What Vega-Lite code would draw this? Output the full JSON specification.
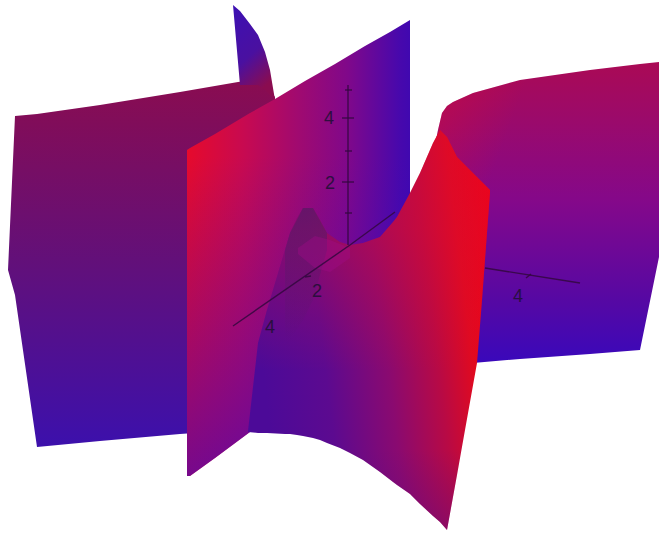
{"$schema":"https://vega.github.io/schema/vega-lite/v6.json","width":659,"height":536,"padding":0,"autosize":{"type":"fit","contains":"padding"},"background":"white","config":{"view":{"stroke":null}},
"datasets":{
"A":[{"x":8,"y":270,"y2":270},{"x":15,"y":116,"y2":295},{"x":37,"y":114,"y2":447},{"x":100,"y":105,"y2":441},{"x":180,"y":92,"y2":434},{"x":238,"y":82,"y2":430},{"x":262,"y":79,"y2":428},{"x":275,"y":97,"y2":420}],
"B":[{"x":233,"y":5,"y2":5},{"x":240,"y":11,"y2":85},{"x":250,"y":24,"y2":85},{"x":258,"y":35,"y2":85},{"x":265,"y":52,"y2":90},{"x":270,"y":70,"y2":95},{"x":275,"y":100,"y2":100}],
"C":[{"x":436,"y":140,"y2":366},{"x":438,"y":130,"y2":366},{"x":442,"y":113,"y2":366},{"x":447,"y":106,"y2":366},{"x":453,"y":102,"y2":365},{"x":473,"y":93,"y2":363},{"x":520,"y":80,"y2":359},{"x":590,"y":70,"y2":354},{"x":640,"y":64,"y2":350},{"x":659,"y":62,"y2":257}],
"D":[{"x":187,"y":150,"y2":476},{"x":190,"y":148,"y2":476},{"x":215,"y":134,"y2":458},{"x":250,"y":113,"y2":432},{"x":275,"y":99,"y2":400},{"x":305,"y":81,"y2":350},{"x":335,"y":64,"y2":300},{"x":365,"y":46,"y2":280},{"x":390,"y":32,"y2":260},{"x":410,"y":20,"y2":205}],
"E":[{"x":248,"y":431,"y2":432},{"x":258,"y":343,"y2":433},{"x":267,"y":310,"y2":433},{"x":285,"y":250,"y2":434},{"x":290,"y":233,"y2":434},{"x":297,"y":218,"y2":435},{"x":303,"y":208,"y2":436},{"x":313,"y":208,"y2":438},{"x":320,"y":220,"y2":440},{"x":327,"y":233,"y2":443},{"x":340,"y":242,"y2":448},{"x":350,"y":245,"y2":453},{"x":363,"y":243,"y2":460},{"x":380,"y":237,"y2":472},{"x":393,"y":222,"y2":482},{"x":397,"y":217,"y2":485},{"x":410,"y":193,"y2":494},{"x":420,"y":173,"y2":504},{"x":433,"y":143,"y2":516},{"x":440,"y":130,"y2":522},{"x":447,"y":137,"y2":530},{"x":457,"y":157,"y2":475},{"x":465,"y":165,"y2":430},{"x":477,"y":177,"y2":363},{"x":482,"y":182,"y2":300},{"x":490,"y":190,"y2":192}],
"F":[{"x":285,"y":250,"y2":340},{"x":290,"y":233,"y2":340},{"x":303,"y":208,"y2":320},{"x":313,"y":208,"y2":300},{"x":327,"y":233,"y2":250}],
"G":[{"x":298,"y":248,"y2":254},{"x":315,"y":236,"y2":268},{"x":330,"y":240,"y2":272},{"x":350,"y":248,"y2":258}],
"lines":[{"s":"a","x":233,"y":326},{"s":"a","x":350,"y":245},{"s":"a","x":395,"y":212},{"s":"b","x":485,"y":268},{"s":"b","x":580,"y":283},{"s":"c","x":348,"y":245},{"s":"c","x":348,"y":85},{"s":"t1","x":342,"y":118},{"s":"t1","x":354,"y":118},{"s":"t2","x":342,"y":182},{"s":"t2","x":354,"y":182},{"s":"t3","x":345,"y":90},{"s":"t3","x":352,"y":90},{"s":"t4","x":345,"y":151},{"s":"t4","x":352,"y":151},{"s":"t5","x":345,"y":213},{"s":"t5","x":352,"y":213},{"s":"t6","x":305,"y":277},{"s":"t6","x":311,"y":276},{"s":"t7","x":526,"y":278},{"s":"t7","x":531,"y":274}],
"labels":[{"l":"4","x":329,"y":119},{"l":"2","x":330,"y":184},{"l":"2","x":317,"y":292},{"l":"4","x":270,"y":328},{"l":"4","x":518,"y":297}]
},
"encoding":{"x":{"field":"x","type":"quantitative","scale":{"domain":[0,659],"nice":false,"zero":false},"axis":null},"y":{"field":"y","type":"quantitative","scale":{"domain":[536,0],"nice":false,"zero":false},"axis":null}},
"layer":[
{"data":{"name":"A"},"mark":{"type":"area","orient":"vertical","color":{"gradient":"linear","x1":0,"y1":0,"x2":0,"y2":1,"stops":[{"offset":0,"color":"#8a0c50"},{"offset":0.5,"color":"#62107a"},{"offset":1,"color":"#3c10ac"}]}},"encoding":{"y2":{"field":"y2"}}},
{"data":{"name":"B"},"mark":{"type":"area","orient":"vertical","color":{"gradient":"linear","x1":0,"y1":0,"x2":0.4,"y2":1,"stops":[{"offset":0,"color":"#3c10b4"},{"offset":0.6,"color":"#4a10a0"},{"offset":1,"color":"#8a0c50"}]}},"encoding":{"y2":{"field":"y2"}}},
{"data":{"name":"C"},"mark":{"type":"area","orient":"vertical","color":{"gradient":"linear","x1":0,"y1":0,"x2":0,"y2":1,"stops":[{"offset":0,"color":"#aa0a55"},{"offset":0.2,"color":"#9a0a6c"},{"offset":0.46,"color":"#84088a"},{"offset":0.79,"color":"#5508a4"},{"offset":1,"color":"#3808bc"}]}},"encoding":{"y2":{"field":"y2"}}},
{"data":{"name":"C"},"mark":{"type":"area","orient":"vertical","color":{"gradient":"linear","x1":0,"y1":0,"x2":1,"y2":0.5,"stops":[{"offset":0,"color":"rgba(230,10,40,0.4)"},{"offset":0.35,"color":"rgba(230,10,40,0)"}]}},"encoding":{"y2":{"field":"y2"}}},
{"data":{"name":"D"},"mark":{"type":"area","orient":"vertical","color":{"gradient":"linear","x1":0,"y1":0,"x2":1,"y2":0,"stops":[{"offset":0,"color":"#e60a2c"},{"offset":0.25,"color":"#c80a50"},{"offset":0.5,"color":"#a00a70"},{"offset":0.72,"color":"#80088a"},{"offset":0.95,"color":"#4808ac"},{"offset":1,"color":"#4008b0"}]}},"encoding":{"y2":{"field":"y2"}}},
{"data":{"name":"D"},"mark":{"type":"area","orient":"vertical","color":{"gradient":"linear","x1":0,"y1":0,"x2":0,"y2":1,"stops":[{"offset":0.3,"color":"rgba(60,8,190,0)"},{"offset":1,"color":"rgba(60,8,190,0.65)"}]}},"encoding":{"y2":{"field":"y2"}}},
{"data":{"name":"E"},"mark":{"type":"area","orient":"vertical","color":{"gradient":"linear","x1":0,"y1":0.3,"x2":1,"y2":0.1,"stops":[{"offset":0,"color":"#4c0a98"},{"offset":0.25,"color":"#5c0a90"},{"offset":0.5,"color":"#8a0a70"},{"offset":0.7,"color":"#b80a45"},{"offset":0.84,"color":"#e00a20"},{"offset":1,"color":"#f40010"}]}},"encoding":{"y2":{"field":"y2"}}},
{"data":{"name":"E"},"mark":{"type":"area","orient":"vertical","color":{"gradient":"linear","x1":0,"y1":0,"x2":0,"y2":1,"stops":[{"offset":0.25,"color":"rgba(220,10,50,0.4)"},{"offset":0.6,"color":"rgba(220,10,50,0)"},{"offset":0.8,"color":"rgba(90,10,130,0)"},{"offset":1,"color":"rgba(90,10,130,0.4)"}]}},"encoding":{"y2":{"field":"y2"}}},
{"data":{"name":"F"},"mark":{"type":"area","orient":"vertical","color":{"gradient":"linear","x1":0,"y1":0,"x2":0,"y2":1,"stops":[{"offset":0,"color":"rgba(85,25,105,0.7)"},{"offset":1,"color":"rgba(85,25,105,0)"}]}},"encoding":{"y2":{"field":"y2"}}},
{"data":{"name":"G"},"mark":{"type":"area","orient":"vertical","color":"#a00a88","opacity":0.4},"encoding":{"y2":{"field":"y2"}}},
{"data":{"name":"lines"},"mark":{"type":"line","color":"#32083e","strokeWidth":1.4,"opacity":0.85},"encoding":{"detail":{"field":"s"},"order":{"field":"y"}}},
{"data":{"name":"labels"},"mark":{"type":"text","font":"Liberation Sans","fontSize":18,"color":"#241038","opacity":0.9,"align":"center","baseline":"middle"},"encoding":{"text":{"field":"l"}}}
]}
